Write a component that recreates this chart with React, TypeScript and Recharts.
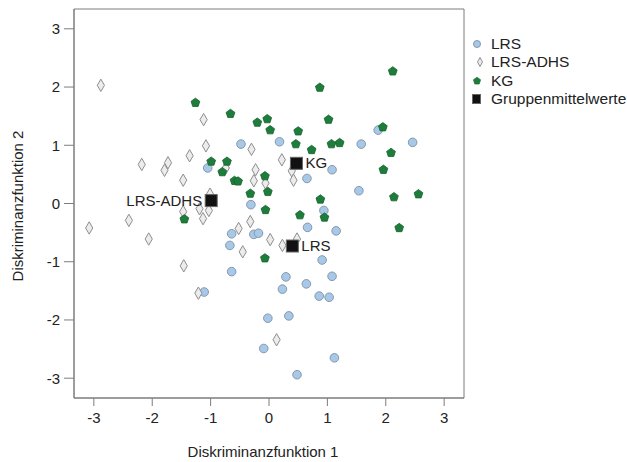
import { ScatterChart, Scatter, XAxis, YAxis, ReferenceArea } from 'recharts';

// Diskriminanzfunktion 1 / 2 scores per group
const lrs: [number, number][] = [
  [-0.48, 1.02], [-1.05, 0.61], [-0.31, -0.02], [0.18, 1.06], [1.87, 1.26],
  [1.58, 1.02], [2.46, 1.05], [1.08, 0.58], [0.65, 0.43], [1.54, 0.22],
  [0.94, -0.12], [-0.64, -0.52], [-0.67, -0.72], [-0.26, -0.53], [-0.18, -0.51],
  [-0.64, -1.17], [-1.11, -1.52], [-0.02, -1.97], [-0.09, -2.49], [0.66, -0.41],
  [1.15, -0.47], [0.91, -0.97], [0.29, -1.26], [1.08, -1.25], [0.23, -1.47],
  [0.64, -1.38], [0.86, -1.59], [1.03, -1.61], [0.34, -1.93], [1.12, -2.65],
  [0.48, -2.94],
];

const lrsAdhs: [number, number][] = [
  [-2.88, 2.03], [-1.12, 1.44], [-1.08, 0.99], [-0.3, 0.93], [-1.36, 0.82],
  [-2.18, 0.67], [-1.73, 0.7], [-1.79, 0.57], [-0.23, 0.58], [-1.47, 0.4],
  [-0.26, 0.39], [-0.06, 0.35], [-0.74, 0.61], [-1.01, 0.16], [-1.47, -0.14],
  [-1.19, -0.09], [-1.13, -0.26], [-1.03, -0.12], [-0.32, -0.31], [-0.52, -0.43],
  [0.02, -0.62], [-0.45, -0.83], [-1.46, -1.07], [-3.08, -0.42], [-2.4, -0.29],
  [-2.06, -0.61], [-1.21, -1.54], [0.23, -0.72], [0.48, -0.61], [0.13, -2.34],
  [0.22, 0.75], [0.39, 0.56], [0.42, 0.4],
];

const kg: [number, number][] = [
  [-1.26, 1.73], [-0.66, 1.54], [-0.2, 1.39], [-0.03, 1.45], [0.02, 1.26],
  [-0.99, 0.72], [-0.72, 0.72], [-0.8, 0.54], [-0.59, 0.39], [-0.53, 0.38],
  [-0.07, 0.47], [-0.32, 0.17], [-0.02, 0.2], [2.12, 2.27], [0.87, 1.99],
  [1.02, 1.44], [1.95, 1.31], [0.5, 1.24], [0.46, 1.02], [0.73, 0.92],
  [1.07, 1.02], [1.21, 1.04], [2.09, 0.87], [1.96, 0.58], [0.88, 0.07],
  [2.14, 0.11], [2.56, 0.16], [-0.06, -0.11], [-1.45, -0.27], [-0.07, -0.94],
  [0.53, -0.2], [0.95, -0.24], [2.23, -0.42],
];

const groupNames = ['LRS', 'LRS-ADHS', 'KG'];
const groupMeans: [number, number][] = [[0.4, -0.73], [-0.99, 0.05], [0.47, 0.69]];

const ticks = [-3, -2, -1, 0, 1, 2, 3];
const domain: [number, number] = [-3.34, 3.34];

const FONT = '"Liberation Sans", Arial, sans-serif';
const AXIS = '#7d7d7d';

const toPoints = (arr: [number, number][]) => arr.map(([x, y]) => ({ x, y }));
const meanPoints = groupMeans.map(([x, y], i) => ({ x, y, label: groupNames[i] }));

const Circle = (p: any) => (
  <circle cx={p.cx} cy={p.cy} r={4.3} fill="#a8c8e8" stroke="#8598ae" strokeWidth={1} />
);

const Diamond = (p: any) => (
  <polygon
    points={`${p.cx},${p.cy - 6.2} ${p.cx + 3.6},${p.cy} ${p.cx},${p.cy + 6.2} ${p.cx - 3.6},${p.cy}`}
    fill="#ececec"
    stroke="#8e8e8e"
    strokeWidth={1}
  />
);

const pentagonPoints = (cx: number, cy: number, r: number) =>
  [0, 1, 2, 3, 4]
    .map((i) => {
      const a = ((-90 + 72 * i) * Math.PI) / 180;
      return `${cx + r * Math.cos(a)},${cy + r * Math.sin(a)}`;
    })
    .join(' ');

const Pentagon = (p: any) => (
  <polygon points={pentagonPoints(p.cx, p.cy, 4.6)} fill="#1d7e3c" stroke="#15612d" strokeWidth={0.8} />
);

const MeanSquare = (p: any) => {
  const left = p.payload.label === 'LRS-ADHS';
  return (
    <g>
      <rect x={p.cx - 6} y={p.cy - 6} width={12} height={12} fill="#111" stroke="#666" strokeWidth={1} />
      <text
        x={left ? p.cx - 9 : p.cx + 9}
        y={p.cy + 5}
        textAnchor={left ? 'end' : 'start'}
        fontSize={15}
        fontFamily={FONT}
        fill="#222"
      >
        {p.payload.label}
      </text>
    </g>
  );
};

const legendItems = [
  { name: 'LRS', icon: <circle cx={7} cy={9} r={3.5} fill="#a8c8e8" stroke="#8598ae" /> },
  { name: 'LRS-ADHS', icon: <polygon points="10,4.5 12.5,9 10,13.5 7.5,9" fill="#ececec" stroke="#8e8e8e" /> },
  { name: 'KG', icon: <polygon points={pentagonPoints(7, 9, 3.8)} fill="#1d7e3c" stroke="#15612d" strokeWidth={0.6} /> },
  { name: 'Gruppenmittelwerte', icon: <rect x={2.5} y={4.5} width={8} height={9} fill="#111" stroke="#666" /> },
];

export default function App() {
  return (
    <div style={{ position: 'absolute', left: 0, top: 0, width: 627, height: 462, background: '#fff', fontFamily: FONT }}>
      <ScatterChart width={627} height={462} margin={{ top: 9, right: 163, bottom: 0, left: 14 }}>
        <XAxis
          type="number"
          dataKey="x"
          domain={domain}
          ticks={ticks}
          allowDataOverflow
          height={64}
          tickSize={8}
          tickMargin={6}
          stroke={AXIS}
          tick={{ fill: '#222', fontSize: 15, fontFamily: FONT }}
          label={() => (
            <text x={263} y={457} textAnchor="middle" fontSize={15} fontFamily={FONT} fill="#222">
              Diskriminanzfunktion 1
            </text>
          )}
        />
        <YAxis
          type="number"
          dataKey="y"
          domain={domain}
          ticks={ticks}
          allowDataOverflow
          width={60}
          tickSize={10}
          tickMargin={4}
          stroke={AXIS}
          tick={{ fill: '#222', fontSize: 15, fontFamily: FONT }}
          label={() => (
            <text
              x={23}
              y={206}
              transform="rotate(-90 23 206)"
              textAnchor="middle"
              fontSize={15}
              fontFamily={FONT}
              fill="#222"
            >
              Diskriminanzfunktion 2
            </text>
          )}
        />
        <ReferenceArea x1={domain[0]} x2={domain[1]} y1={domain[0]} y2={domain[1]} fill="none" stroke={AXIS} strokeWidth={1} ifOverflow="visible" />
        <Scatter name="LRS" data={toPoints(lrs)} shape={Circle} isAnimationActive={false} />
        <Scatter name="LRS-ADHS" data={toPoints(lrsAdhs)} shape={Diamond} isAnimationActive={false} />
        <Scatter name="KG" data={toPoints(kg)} shape={Pentagon} isAnimationActive={false} />
        <Scatter name="Gruppenmittelwerte" data={meanPoints} shape={MeanSquare} isAnimationActive={false} />
      </ScatterChart>
      <div style={{ position: 'absolute', left: 470, top: 35 }}>
        {legendItems.map((it) => (
          <div key={it.name} style={{ display: 'flex', alignItems: 'center', height: 18.3 }}>
            <svg width={21} height={18} style={{ flex: 'none' }}>
              {it.icon}
            </svg>
            <span style={{ fontSize: 15.5, color: '#222', whiteSpace: 'nowrap' }}>{it.name}</span>
          </div>
        ))}
      </div>
    </div>
  );
}
